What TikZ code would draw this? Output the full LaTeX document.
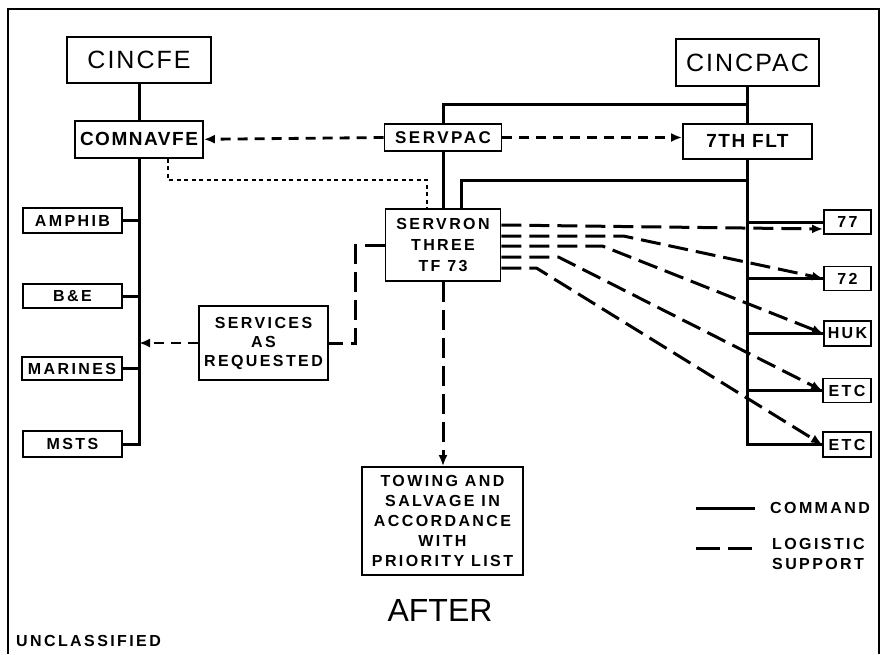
\documentclass[tikz,border=0pt]{standalone}
\usepackage{fontspec}
\setmainfont{Liberation Sans}
\newfontfamily\stencil[LetterSpace=15]{Liberation Sans}
\newfontfamily\stencilwide[LetterSpace=8]{Liberation Sans}
\usetikzlibrary{arrows.meta, positioning, calc}
\tikzset{
  orgbox/.style = {draw, line width=1.8pt, fill=white, inner sep=0pt, align=center,
                   font=\stencil\bfseries\fontsize{16}{20}\selectfont},
  topbox/.style = {orgbox, font=\stencilwide\fontsize{25}{28}\selectfont},
  midbox/.style = {orgbox, font=\stencilwide\bfseries\fontsize{19}{22}\selectfont},
  tfbox/.style  = {orgbox, minimum width=47pt, minimum height=24pt},
  cmdln/.style  = {line width=3pt},
  logln/.style  = {line width=3pt, dash pattern=on 20pt off 8pt},
  logsh/.style  = {line width=2.8pt, dash pattern=on 10pt off 7pt},
  dotln/.style  = {line width=2pt, dash pattern=on 4pt off 3.5pt},
  tip/.style    = {-{Latex[length=11pt,width=9pt]}},
  legtxt/.style = {font=\stencil\bfseries\fontsize{16}{20}\selectfont,
                   align=left, inner sep=0pt},
}

\begin{document}
\begin{tikzpicture}[x=1pt, y=-1pt]
    \useasboundingbox (0,0) rectangle (886,654);
    % sheet frame
    \draw[line width=1.8pt] (8,654) -- (8,9) -- (879,9) -- (879,654);

    % far east command
    \node[topbox, minimum width=144pt, minimum height=46pt] (cincfe) at (139,60) {CINCFE};
    \node[midbox, minimum width=128pt, minimum height=37pt, below=36pt of cincfe] (comnavfe) {COMNAVFE};
    \node[orgbox, minimum width=99pt, minimum height=25pt] (amphib) at (72.5,220.5) {AMPHIB};
    \node[orgbox, minimum width=99pt, minimum height=24pt] (bande) at (72.5,296) {B\&E};
    \node[orgbox, minimum width=100pt, minimum height=23pt] (marines) at (72,368.5) {MARINES};
    \node[orgbox, minimum width=99pt, minimum height=26pt] (msts) at (72.5,444) {MSTS};
    \node[orgbox, minimum width=129pt, minimum height=74pt,
          font=\stencil\bfseries\fontsize{16}{19}\selectfont] (services) at (263.5,343)
         {SERVICES\\AS\\REQUESTED};

    % pacific command
    \node[orgbox, minimum width=117pt, minimum height=27pt,
          font=\stencil\bfseries\fontsize{17}{20}\selectfont] (servpac) at (443,137.5) {SERVPAC};
    \node[orgbox, minimum width=115pt, minimum height=72pt,
          font=\stencil\bfseries\fontsize{16}{21}\selectfont] (servron) at (443,245)
         {SERVRON\\THREE\\TF 73};
    \node[orgbox, minimum width=161pt, minimum height=108pt] (towing) at (442.5,521)
         {TOWING AND\\SALVAGE IN\\ACCORDANCE\\WITH\\PRIORITY LIST};
    \node[topbox, minimum width=143pt, minimum height=47pt] (cincpac) at (747.5,62.5) {CINCPAC};
    \node[midbox, minimum width=129pt, minimum height=35pt, below=36pt of cincpac] (seventh) {7TH FLT};
    \node[tfbox] (tf77) at (847.5,222) {77};
    \node[tfbox] (tf72) at (847.5,278.5) {72};
    \node[tfbox, minimum height=25pt] (huk) at (847.5,333.5) {HUK};
    \node[tfbox, minimum width=48pt] (etca) at (847,390.5) {ETC};
    \node[tfbox, minimum width=48pt, minimum height=25pt] (etcb) at (847,444.5) {ETC};

    \coordinate (pacbus) at ($(cincpac.south)!0.5!(seventh.north)$);
    \coordinate (fltbus) at (747.5,180);
    \coordinate (dotturn) at (427,180);

    % command lines
    \draw[cmdln] (cincfe) -- (comnavfe);
    \draw[cmdln] (comnavfe.south) |- (msts.east);
    \foreach \unit in {amphib, bande, marines}
        \draw[cmdln] (\unit.east) -- (comnavfe.south |- \unit.east);
    \draw[cmdln] (cincpac) -- (seventh);
    \draw[cmdln] (seventh.south) |- (etcb.west);
    \foreach \unit in {tf77, tf72, huk, etca}
        \draw[cmdln] (seventh.south |- \unit.west) -- (\unit.west);
    \draw[cmdln] (servpac.north) |- (pacbus);
    \draw[cmdln] (servpac) -- (servron);
    \draw[cmdln] ([xshift=18pt]servron.north) |- (fltbus);

    % logistic support
    \draw[logsh, tip] (servpac.west) -- (comnavfe.east);
    \draw[logsh, tip] (servpac.east) -- (servpac.east -| seventh.west);
    \draw[dotln] ([xshift=29pt]comnavfe.south) |- (dotturn) -- (dotturn |- servron.north);
    \draw[logln] (servron.west) -- ++(-29,0) |- (services.east);
    \draw[logsh, tip] (services.west) -- (comnavfe.south |- services.west);
    \draw[logln, tip] (servron.south) -- (servron.south |- towing.north);
    \draw[logln, tip] ($(servron.east)+(0,-20)$) -- ($(tf77.west)+(0,7)$);
    \foreach \dy/\run/\unit in {-9/122/tf72, 1/101/huk, 12/57/etca, 23/35/etcb}
        \draw[logln, tip] ($(servron.east)+(0,\dy)$) -- ++(\run,0) -- (\unit.west);

    % key
    \node[legtxt, anchor=west] (cmdkey) at (770,508) {COMMAND};
    \node[legtxt, anchor=north west] (logkey) at (772,538) {LOGISTIC\\SUPPORT};
    \draw[cmdln] ([xshift=-15pt]cmdkey.west) -- ++(-59,0);
    \draw[line width=3pt, dash pattern=on 24pt off 8pt]
         ($(logkey.north west)+(-20,10)$) -- ++(-56,0);

    \node[font=\fontsize{32}{32}\selectfont] (after) at (440,610) {AFTER};
    \node[legtxt, anchor=west] (unclass) at (16,641) {UNCLASSIFIED};
\end{tikzpicture}
\end{document}
